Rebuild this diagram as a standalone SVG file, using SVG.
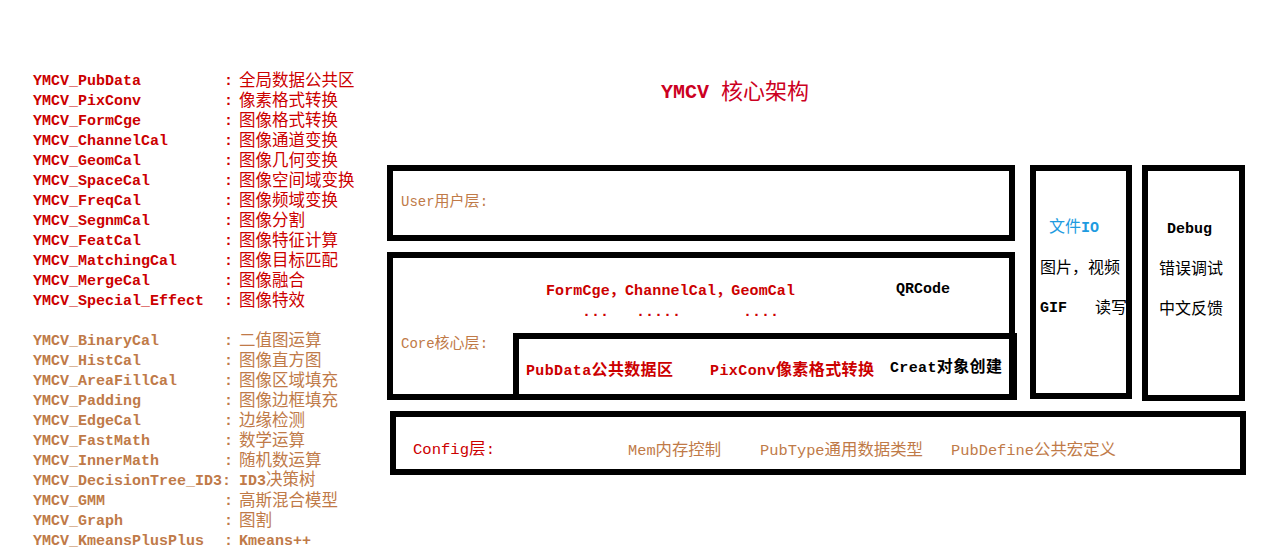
<svg xmlns="http://www.w3.org/2000/svg" width="1270" height="554" viewBox="0 0 1270 554">
<style>
.box{fill:none;stroke:#000;stroke-width:6}
.m{font-family:"Liberation Mono","Noto Sans CJK SC",monospace;font-weight:bold;font-size:15px}
.c{font-family:"Noto Sans CJK SC",sans-serif;font-size:16px}
.lc{font-family:"Noto Sans CJK SC",sans-serif;font-size:16.5px;font-weight:normal}
.n{font-weight:normal}
.red{fill:#cc0000}
.brn{fill:#c07a48}
.blk{fill:#000}
.blu{fill:#1e9be0}
</style>
<rect width="1270" height="554" fill="#fff"/>
<g id="title">
<text x="661" y="98" class="m" style="fill:#cc0022;font-size:20px">YMCV</text>
<text x="721" y="99" class="c" style="fill:#cc0022;font-size:22px">核心架构</text>
</g>
<g id="list-core" class="red">
<text x="33" y="85" class="m">YMCV_PubData</text><text x="224" y="85" class="m">:</text><text x="239" y="86" class="lc">全局数据公共区</text>
<text x="33" y="105" class="m">YMCV_PixConv</text><text x="224" y="105" class="m">:</text><text x="239" y="106" class="lc">像素格式转换</text>
<text x="33" y="125" class="m">YMCV_FormCge</text><text x="224" y="125" class="m">:</text><text x="239" y="126" class="lc">图像格式转换</text>
<text x="33" y="145" class="m">YMCV_ChannelCal</text><text x="224" y="145" class="m">:</text><text x="239" y="146" class="lc">图像通道变换</text>
<text x="33" y="165" class="m">YMCV_GeomCal</text><text x="224" y="165" class="m">:</text><text x="239" y="166" class="lc">图像几何变换</text>
<text x="33" y="185" class="m">YMCV_SpaceCal</text><text x="224" y="185" class="m">:</text><text x="239" y="186" class="lc">图像空间域变换</text>
<text x="33" y="205" class="m">YMCV_FreqCal</text><text x="224" y="205" class="m">:</text><text x="239" y="206" class="lc">图像频域变换</text>
<text x="33" y="225" class="m">YMCV_SegnmCal</text><text x="224" y="225" class="m">:</text><text x="239" y="226" class="lc">图像分割</text>
<text x="33" y="245" class="m">YMCV_FeatCal</text><text x="224" y="245" class="m">:</text><text x="239" y="246" class="lc">图像特征计算</text>
<text x="33" y="265" class="m">YMCV_MatchingCal</text><text x="224" y="265" class="m">:</text><text x="239" y="266" class="lc">图像目标匹配</text>
<text x="33" y="285" class="m">YMCV_MergeCal</text><text x="224" y="285" class="m">:</text><text x="239" y="286" class="lc">图像融合</text>
<text x="33" y="305" class="m">YMCV_Special_Effect</text><text x="224" y="305" class="m">:</text><text x="239" y="306" class="lc">图像特效</text>
</g>
<g id="list-ext" class="brn">
<text x="33" y="345" class="m">YMCV_BinaryCal</text><text x="224" y="345" class="m">:</text><text x="239" y="346" class="lc">二值图运算</text>
<text x="33" y="365" class="m">YMCV_HistCal</text><text x="224" y="365" class="m">:</text><text x="239" y="366" class="lc">图像直方图</text>
<text x="33" y="385" class="m">YMCV_AreaFillCal</text><text x="224" y="385" class="m">:</text><text x="239" y="386" class="lc">图像区域填充</text>
<text x="33" y="405" class="m">YMCV_Padding</text><text x="224" y="405" class="m">:</text><text x="239" y="406" class="lc">图像边框填充</text>
<text x="33" y="425" class="m">YMCV_EdgeCal</text><text x="224" y="425" class="m">:</text><text x="239" y="426" class="lc">边缘检测</text>
<text x="33" y="445" class="m">YMCV_FastMath</text><text x="224" y="445" class="m">:</text><text x="239" y="446" class="lc">数学运算</text>
<text x="33" y="465" class="m">YMCV_InnerMath</text><text x="224" y="465" class="m">:</text><text x="239" y="466" class="lc">随机数运算</text>
<text x="33" y="485" class="m">YMCV_DecisionTree_ID3:</text><text x="239" y="485" class="m">ID3<tspan class="lc">决策树</tspan></text>
<text x="33" y="505" class="m">YMCV_GMM</text><text x="224" y="505" class="m">:</text><text x="239" y="506" class="lc">高斯混合模型</text>
<text x="33" y="525" class="m">YMCV_Graph</text><text x="224" y="525" class="m">:</text><text x="239" y="526" class="lc">图割</text>
<text x="33" y="545" class="m">YMCV_KmeansPlusPlus</text><text x="224" y="545" class="m">:</text><text x="239" y="545" class="m">Kmeans++</text>
</g>
<g id="user-layer">
<rect class="box" x="390" y="168" width="622" height="70"/>
<text x="401" y="206" class="m brn n" style="font-size:14px">User<tspan class="c" style="font-size:15px">用户层</tspan>:</text>
</g>
<g id="core-layer">
<rect class="box" x="390" y="255" width="622" height="142"/>
<text x="401" y="348" class="m brn n" style="font-size:14px">Core<tspan class="c" style="font-size:15px">核心层</tspan>:</text>
<text x="546" y="295" class="m red" textLength="249">FormCge，ChannelCal，GeomCal</text>
<text x="582" y="316" class="m red">...</text>
<text x="636" y="316" class="m red">.....</text>
<text x="743" y="316" class="m red">....</text>
<text x="896" y="293" class="m blk" textLength="54">QRCode</text>
</g>
<g id="core-base">
<rect class="box" x="516" y="336" width="498" height="61"/>
<text x="526" y="375" class="m red" textLength="147">PubData<tspan class="c">公共数据区</tspan></text>
<text x="710" y="375" class="m red" textLength="164">PixConv<tspan class="c">像素格式转换</tspan></text>
<text x="890" y="372" class="m blk" textLength="112">Creat<tspan class="c">对象创建</tspan></text>
</g>
<g id="file-io">
<rect class="box" x="1033" y="168" width="96" height="228"/>
<text x="1049" y="232" class="c blu">文件<tspan class="m">IO</tspan></text>
<text x="1040" y="273" class="c blk">图片，视频</text>
<text x="1040" y="312" class="m blk">GIF</text>
<text x="1095" y="313" class="c blk">读写</text>
</g>
<g id="debug">
<rect class="box" x="1145" y="168" width="97" height="230"/>
<text x="1167" y="233" class="m blk" textLength="45">Debug</text>
<text x="1159" y="274" class="c blk">错误调试</text>
<text x="1159" y="314" class="c blk">中文反馈</text>
</g>
<g id="config-layer">
<rect class="box" x="393" y="414" width="850" height="58"/>
<text x="413" y="454" class="m red n" textLength="82" lengthAdjust="spacingAndGlyphs">Config<tspan class="c">层</tspan>:</text>
<text x="628" y="455" class="m brn n" textLength="93" lengthAdjust="spacingAndGlyphs">Mem<tspan class="c">内存控制</tspan></text>
<text x="760" y="455" class="m brn n" textLength="163" lengthAdjust="spacingAndGlyphs">PubType<tspan class="c">通用数据类型</tspan></text>
<text x="951" y="455" class="m brn n" textLength="165" lengthAdjust="spacingAndGlyphs">PubDefine<tspan class="c">公共宏定义</tspan></text>
</g>
</svg>
